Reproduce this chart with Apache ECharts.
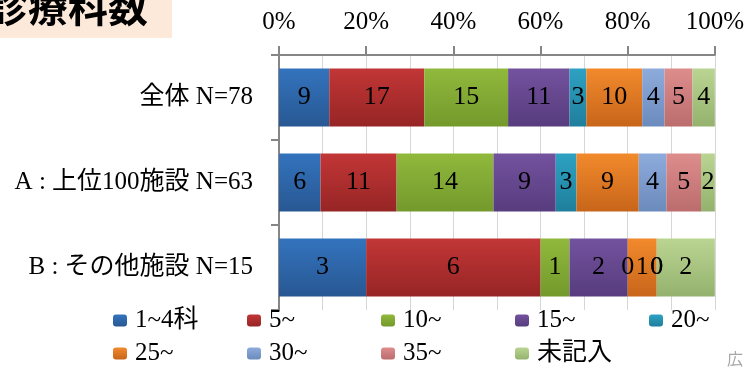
<!DOCTYPE html>
<html>
<head>
<meta charset="utf-8">
<script src="https://cdn.jsdelivr.net/npm/echarts@6/dist/echarts.min.js"></script>
<style>
  html, body { margin: 0; padding: 0; background: #ffffff; }
  #chart { width: 747px; height: 369px; }
</style>
</head>
<body>
<div id="chart"></div>
<script>
// Groups (top to bottom) and number of departments per facility, by bracket
const categories = ['全体 N=78', 'A : 上位100施設 N=63', 'B : その他施設 N=15'];
const seriesNames = ['1~4科', '5~', '10~', '15~', '20~', '25~', '30~', '35~', '未記入'];
const cnt1to4 = [9, 6, 3];
const cnt5    = [17, 11, 6];
const cnt10   = [15, 14, 1];
const cnt15   = [11, 9, 2];
const cnt20   = [3, 3, 0];
const cnt25   = [10, 9, 1];
const cnt30   = [4, 4, 0];
const cnt35   = [5, 5, 0];
const cntNone = [4, 2, 2];
const tickValues = [0, 20, 40, 60, 80, 100];
const tickLabels = ['0%', '20%', '40%', '60%', '80%', '100%'];

const seriesCounts = [cnt1to4, cnt5, cnt10, cnt15, cnt20, cnt25, cnt30, cnt35, cntNone];

// Bar fills: lighter at the top edge, darker at the bottom edge
const palette = [
  ['#3373bd', '#285893'],
  ['#c23636', '#972525'],
  ['#90b93c', '#74992c'],
  ['#73529e', '#573c7e'],
  ['#2ea1c2', '#1f7f9c'],
  ['#f28a2c', '#c7651a'],
  ['#8dabdb', '#6c8bbd'],
  ['#de8d8d', '#bb6c6d'],
  ['#bad592', '#94b26d']
];

const totals = categories.map((_, i) => seriesCounts.reduce((s, arr) => s + arr[i], 0));

const serifCJK = "'Liberation Serif', 'Noto Sans CJK JP', serif";

const series = seriesNames.map((name, k) => ({
  name: name,
  type: 'bar',
  stack: 'all',
  barWidth: 58,
  data: seriesCounts[k].map((v, i) => ({ value: v / totals[i] * 100, count: v })),
  itemStyle: {
    color: new echarts.graphic.LinearGradient(0, 0, 0, 1, [
      { offset: 0, color: palette[k][0] },
      { offset: 1, color: palette[k][1] }
    ])
  },
  label: {
    show: true,
    position: 'inside',
    color: '#000000',
    fontFamily: serifCJK,
    fontSize: 26,
    formatter: p => String(p.data.count)
  },
  emphasis: { disabled: true }
}));

// Legend laid out as five columns of two rows
const columnLefts = [113, 247, 381, 515, 649];
const legends = columnLefts.map((left, c) => ({
  orient: 'vertical',
  left: left,
  top: 308,
  padding: 0,
  itemGap: 8,
  itemWidth: 14,
  itemHeight: 12,
  selectedMode: false,
  data: [seriesNames[c], seriesNames[c + 5]].filter(Boolean),
  textStyle: {
    fontFamily: serifCJK,
    fontSize: 25,
    lineHeight: 25,
    color: '#000000',
    padding: [0, 0, 0, 3]
  }
}));

const chart = echarts.init(document.getElementById('chart'), null, { renderer: 'canvas' });
chart.setOption({
  animation: false,
  backgroundColor: '#ffffff',
  legend: legends,
  grid: { left: 279, right: 29, top: 55, bottom: 59, containLabel: false },
  xAxis: {
    type: 'value',
    position: 'top',
    min: 0,
    max: 100,
    interval: 20,
    axisLine: { show: true, lineStyle: { color: '#868686', width: 2 } },
    axisTick: { show: true, length: 9, lineStyle: { color: '#868686', width: 2 } },
    axisLabel: {
      margin: 20,
      fontFamily: serifCJK,
      fontSize: 25,
      color: '#000000',
      formatter: v => tickLabels[tickValues.indexOf(v)]
    },
    splitLine: { show: true, lineStyle: { color: '#d6d6d6', width: 1 } },
    minorTick: { show: false, splitNumber: 2 },
    minorSplitLine: { show: true, lineStyle: { color: '#d6d6d6', width: 1 } }
  },
  yAxis: {
    type: 'category',
    inverse: true,
    data: categories,
    axisLine: { show: true, lineStyle: { color: '#868686', width: 2 } },
    axisTick: { show: true, length: 8, lineStyle: { color: '#868686', width: 2 } },
    axisLabel: {
      margin: 26,
      fontFamily: serifCJK,
      fontSize: 25,
      color: '#000000'
    },
    splitLine: { show: false }
  },
  graphic: [
    {
      type: 'rect',
      left: 0, top: 0,
      shape: { x: 0, y: 0, width: 172, height: 38 },
      style: { fill: '#fde9da' },
      z: 10
    },
    {
      type: 'text',
      x: -12, y: 7,
      style: {
        text: '診療科数',
        fontFamily: "'Noto Sans CJK JP', sans-serif",
        fontWeight: 'bold',
        fontSize: 40,
        fill: '#000000',
        textVerticalAlign: 'middle'
      },
      z: 11
    },
    {
      type: 'text',
      x: 727, y: 359,
      style: {
        text: '広',
        fontFamily: "'Noto Sans CJK JP', sans-serif",
        fontSize: 16,
        fill: '#a6a6a6',
        textVerticalAlign: 'middle'
      },
      z: 11
    }
  ],
  series: series
});
</script>
</body>
</html>
